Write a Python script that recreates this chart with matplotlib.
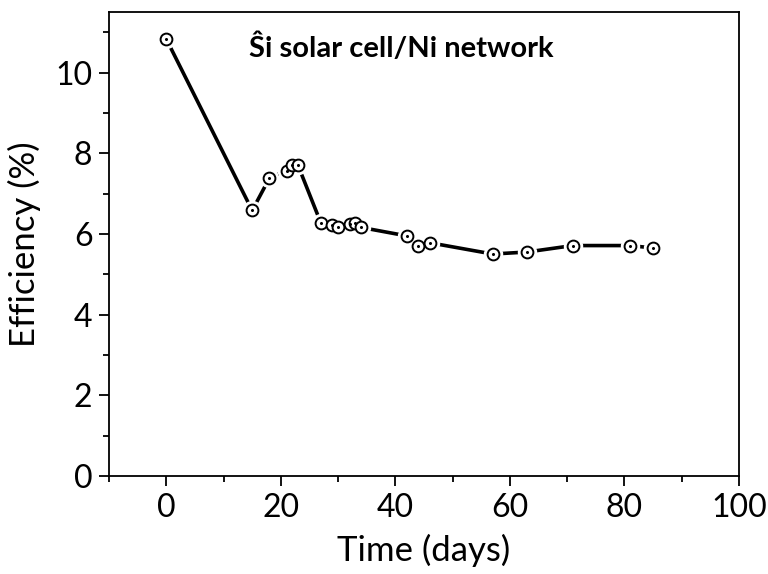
import matplotlib
matplotlib.use('Agg')
from matplotlib import pyplot as plt
from matplotlib.ticker import MultipleLocator

plt.rcParams['font.family'] = ['Lato', 'DejaVu Sans']

# time (days) and efficiency (%)
days = [0, 15, 18, 21, 22, 23, 27, 29, 30, 32, 33, 34, 42, 44, 46, 57, 63, 71, 81, 85]
efficiency = [10.83, 6.58, 7.38, 7.57, 7.71, 7.70, 6.27, 6.21, 6.18, 6.24, 6.26, 6.16,
              5.95, 5.69, 5.78, 5.50, 5.55, 5.71, 5.71, 5.65]

fig = plt.figure(figsize=(7.68, 5.74), dpi=100)
ax = fig.add_axes([0.142, 0.171, 0.820, 0.808])

ax.plot(days, efficiency, color='black', lw=2.6, zorder=1)
# white halo so the line stops short of each marker
ax.plot(days, efficiency, ls='none', marker='o', ms=13, mfc='white', mec='white', zorder=2)
ax.plot(days, efficiency, ls='none', marker='o', ms=8.5, mfc='white', mec='black', mew=1.4, zorder=3)
ax.plot(days, efficiency, ls='none', marker='o', ms=1.2, color='black', zorder=4)

ax.set_xlim(-10, 100)
ax.set_ylim(0, 11.5)
ax.xaxis.set_major_locator(MultipleLocator(20))
ax.xaxis.set_minor_locator(MultipleLocator(10))
ax.yaxis.set_major_locator(MultipleLocator(2))
ax.yaxis.set_minor_locator(MultipleLocator(1))
ax.tick_params(which='major', direction='out', length=7, width=1.3, labelsize=23, pad=5)
ax.tick_params(which='minor', direction='out', length=4, width=1.3)
for s in ax.spines.values():
    s.set_linewidth(1.3)

ax.set_xlabel('Time (days)', fontsize=25, labelpad=8)
ax.set_ylabel('Efficiency (%)', fontsize=25, labelpad=10)
ax.text(41.0, 10.62, 'Ŝi solar cell/Ni network', fontsize=21, fontweight='bold',
        ha='center', va='center')

plt.savefig('out.png', dpi=100)
